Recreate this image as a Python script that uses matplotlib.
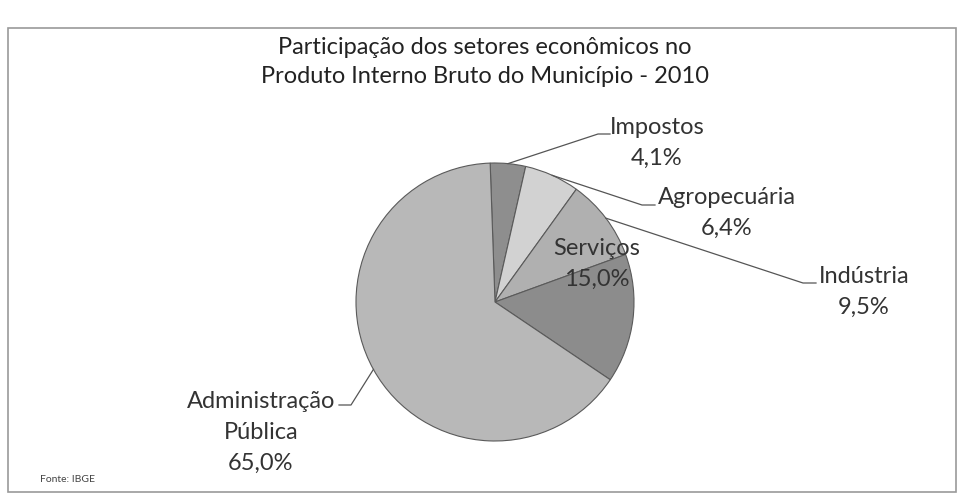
import numpy as np
import matplotlib.pyplot as plt
from matplotlib.patches import Rectangle

# data
setores = ['Impostos', 'Agropecuária', 'Indústria', 'Serviços', 'Administração|Pública']
valores = [4.1, 6.4, 9.5, 15.0, 65.0]
cores = ['#8e8e8e', '#d2d2d2', '#b0b0b0', '#8c8c8c', '#b8b8b8']
titulo = ['Participação dos setores econômicos no',
          'Produto Interno Bruto do Município - 2010']
fonte = 'Fonte: IBGE'

plt.rcParams['font.family'] = ['Lato', 'DejaVu Sans']

W, H = 962, 500
fig = plt.figure(figsize=(W / 100, H / 100), dpi=100)
ax = fig.add_axes([0, 0, 1, 1])

# frame of the chart area
ax.add_patch(Rectangle((8, 8), 948, 464, fill=False, ec='#9a9a9a', lw=1.2))

cx, cy, r = 495, 198, 139
wedges, _ = ax.pie(valores, colors=cores, startangle=92, counterclock=False,
                   center=(cx, cy), radius=r, frame=True,
                   wedgeprops=dict(edgecolor='#5a5a5a', linewidth=0.8))
ax.set_xlim(0, W)
ax.set_ylim(0, H)
ax.set_aspect('equal')
ax.axis('off')

def pct(v):
    return ('%.1f%%' % v).replace('.', ',')

# label placement (pixel coords from top): text centre x, first baseline y
lab_xy = {0: (657, 134), 1: (727, 204), 2: (864, 283), 3: (597, 255), 4: (261, 408)}
# end of the leader line, and length of the little horizontal hook
line_end = {0: (598, 134), 1: (642, 205), 2: (803, 283), 4: (351, 405)}
hook = {0: 12, 1: 13, 2: 13, 4: -12}
passo = 31  # line step inside a label

for i, w in enumerate(wedges):
    linhas = setores[i].split('|') + [pct(valores[i])]
    tx, ty = lab_xy[i]
    for k, t in enumerate(linhas):
        ax.text(tx, H - (ty + k * passo), t, ha='center', va='baseline',
                fontsize=17, color='#333333')
    if i not in line_end:
        continue
    ang = np.deg2rad((w.theta1 + w.theta2) / 2)
    x0 = cx + r * np.cos(ang)
    y0 = cy + r * np.sin(ang)
    x1, y1 = line_end[i]
    ax.plot([x0, x1, x1 + hook[i]], [y0, H - y1, H - y1], color='#555555', lw=0.9)

for k, t in enumerate(titulo):
    ax.text(485, H - (54 + k * 29), t, ha='center', va='baseline',
            fontsize=17, color='#222222')
ax.text(40, H - 482, fonte, ha='left', va='baseline', fontsize=7.5, color='#444444')

fig.savefig('out.png', dpi=100, facecolor='white')
